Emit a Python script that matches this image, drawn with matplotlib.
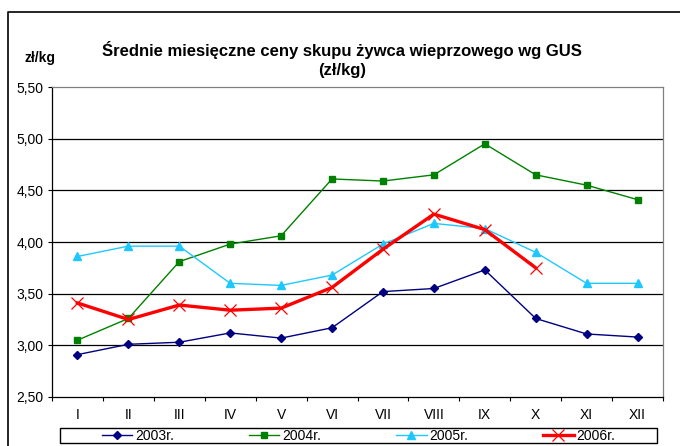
import numpy as np
import matplotlib.pyplot as plt
from matplotlib.lines import Line2D
from matplotlib.patches import Rectangle

#data
months = ['I', 'II', 'III', 'IV', 'V', 'VI', 'VII', 'VIII', 'IX', 'X', 'XI', 'XII']
y2003 = [2.91, 3.01, 3.03, 3.12, 3.07, 3.17, 3.52, 3.55, 3.73, 3.26, 3.11, 3.08]
y2004 = [3.05, 3.26, 3.81, 3.98, 4.06, 4.61, 4.59, 4.65, 4.95, 4.65, 4.55, 4.41]
y2005 = [3.86, 3.96, 3.96, 3.60, 3.58, 3.68, 3.98, 4.18, 4.13, 3.90, 3.60, 3.60]
y2006 = [3.41, 3.25, 3.39, 3.34, 3.36, 3.56, 3.93, 4.27, 4.12, 3.75]
y_ticks = [2.5, 3.0, 3.5, 4.0, 4.5, 5.0, 5.5]

plt.rcParams['font.family'] = ['Liberation Sans', 'DejaVu Sans']

fig = plt.figure(figsize=(6.8, 4.46), dpi=100)
ax = fig.add_axes([52/680, 1 - 397/446, (663 - 52)/680, (397 - 87)/446])

x = np.arange(1, len(months) + 1)

ax.plot(x, y2003, color='#000080', lw=1.0, marker='D', ms=4.2, label='2003r.')
ax.plot(x, y2004, color='#008000', lw=1.0, marker='s', ms=4.8, label='2004r.')
ax.plot(x, y2005, color='#1ec8ff', lw=1.0, marker='^', ms=5.5, label='2005r.')
ax.plot(x[:len(y2006)], y2006, color='#ff0000', lw=2.4, marker='x', ms=9,
        mew=0.9, label='2006r.')

#axes limits and ticks
ax.set_xlim(0.5, 12.5)
ax.set_ylim(2.5, 5.5)
ax.set_yticks(y_ticks)
ax.set_yticklabels([('%.2f' % v).replace('.', ',') for v in y_ticks], fontsize=10)
ax.set_xticks(x)
ax.set_xticklabels(months, fontsize=10)
ax.set_xticks(np.arange(0.5, 13, 1), minor=True)
ax.tick_params(axis='x', which='major', length=0, pad=8)
ax.tick_params(axis='x', which='minor', length=3, width=0.8, direction='out')
ax.tick_params(axis='y', length=3, width=0.8, direction='out', pad=3)

#grid lines
for v in y_ticks[1:-1]:
    ax.axhline(v, color='black', lw=0.9, zorder=0)

ax.spines['left'].set_color('black')
ax.spines['bottom'].set_color('black')
ax.spines['top'].set_color('#808080')
ax.spines['right'].set_color('#808080')
for s in ax.spines.values():
    s.set_linewidth(0.9)

#titles
fig.text(0.503, 1 - 50/446, 'Średnie miesięczne ceny skupu żywca wieprzowego wg GUS',
         ha='center', va='center', fontsize=12, fontweight='bold')
fig.text(0.503, 1 - 71/446, '(zł/kg)', ha='center', va='center',
         fontsize=12, fontweight='bold')
fig.text(40/680, 1 - 58/446, 'zł/kg', ha='center', va='center',
         fontsize=10, fontweight='bold')

#legend box
lx0, lx1, ly0, ly1 = 60/680, 657/680, 1 - 443/446, 1 - 428/446
fig.add_artist(Rectangle((lx0, ly0), lx1 - lx0, ly1 - ly0, transform=fig.transFigure,
                         fill=False, edgecolor='black', lw=1.0))
fig.legend(loc='center', bbox_to_anchor=((lx0 + lx1)/2, (ly0 + ly1)/2),
           ncol=4, frameon=False, fontsize=10, handlelength=2.2,
           handletextpad=0.2, columnspacing=5.4, borderpad=0)

#outer chart frame
fig.add_artist(Line2D([8/680, 8/680, 1], [0, 1 - 12/446, 1 - 12/446],
                      transform=fig.transFigure, color='black', lw=1.2))

fig.savefig('out.png', dpi=100)
